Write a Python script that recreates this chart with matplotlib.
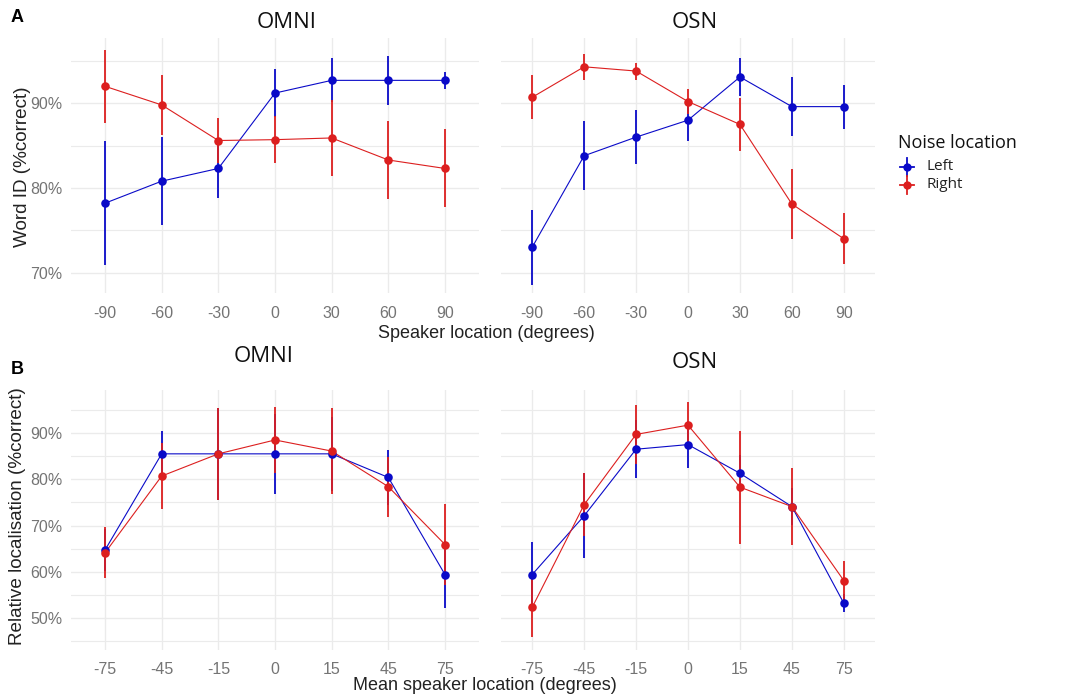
import matplotlib
matplotlib.use("Agg")
import matplotlib.pyplot as plt
from matplotlib.ticker import FixedLocator, FuncFormatter
from matplotlib.lines import Line2D

plt.rcParams["font.family"] = ["Liberation Sans", "DejaVu Sans"]

# ---- data -------------------------------------------------------------
speaker_loc = ["-90", "-60", "-30", "0", "30", "60", "90"]
mean_loc = ["-75", "-45", "-15", "0", "15", "45", "75"]

# Word identification (% correct), mean and half-width of error bar
wid_omni_left = [78.2, 80.8, 82.3, 91.2, 92.7, 92.7, 92.7]
wid_omni_left_err = [7.3, 5.2, 3.5, 2.8, 2.6, 2.9, 1.0]
wid_omni_right = [92.0, 89.8, 85.6, 85.7, 85.9, 83.3, 82.3]
wid_omni_right_err = [4.3, 3.5, 2.7, 2.8, 4.5, 4.6, 4.6]

wid_osn_left = [73.0, 83.8, 86.0, 88.0, 93.1, 89.6, 89.6]
wid_osn_left_err = [4.4, 4.1, 3.2, 2.4, 2.2, 3.5, 2.6]
wid_osn_right = [90.7, 94.3, 93.8, 90.2, 87.5, 78.1, 74.0]
wid_osn_right_err = [2.6, 1.5, 1.0, 1.5, 3.1, 4.1, 3.0]

# Relative localisation (% correct)
loc_omni_left = [64.7, 85.5, 85.5, 85.5, 85.5, 80.4, 59.4]
loc_omni_left_err = [4.5, 5.0, 10.0, 8.7, 8.0, 6.0, 7.2]
loc_omni_right = [64.1, 80.7, 85.5, 88.5, 86.1, 78.4, 65.9]
loc_omni_right_err = [5.5, 7.2, 10.0, 7.2, 9.3, 6.5, 8.7]

loc_osn_left = [59.4, 72.1, 86.5, 87.5, 81.3, 74.1, 53.2]
loc_osn_left_err = [7.0, 9.2, 6.3, 5.1, 4.0, 4.0, 1.9]
loc_osn_right = [52.3, 74.5, 89.7, 91.7, 78.3, 74.1, 58.1]
loc_osn_right_err = [6.4, 6.8, 6.3, 5.1, 12.2, 8.4, 4.3]

noise_labels = ["Left", "Right"]

# ---- style ------------------------------------------------------------
BLUE = "#0a0ac8"
RED = "#dc1f1f"
GRID = "#ebebeb"
TICK = "#747474"

W, H = 1070, 699
fig = plt.figure(figsize=(W / 100, H / 100), dpi=100)


def ax_at(x0, y0, x1, y1):
    return fig.add_axes([x0 / W, 1 - y1 / H, (x1 - x0) / W, (y1 - y0) / H])


def draw_panel(ax, cats, series, ylim, major, minor):
    pos = list(range(len(cats)))
    for vals, errs, col in series:
        ax.plot(pos, vals, color=col, lw=0.8, zorder=3)
        ax.vlines(pos, [v - e for v, e in zip(vals, errs)],
                  [v + e for v, e in zip(vals, errs)],
                  color=col, lw=1.3, zorder=3)
        ax.scatter(pos, vals, s=38, color=col, zorder=4, linewidths=0)
    ax.set_xlim(-0.6, len(cats) - 0.4)
    ax.set_ylim(*ylim)
    ax.set_xticks(pos)
    ax.set_xticklabels(cats)
    ax.yaxis.set_major_locator(FixedLocator(major))
    ax.yaxis.set_minor_locator(FixedLocator(minor))
    ax.yaxis.set_major_formatter(FuncFormatter(lambda v, p: f"{v:.0f}%"))
    ax.grid(True, which="major", color=GRID, lw=1.0, zorder=0)
    ax.grid(True, which="minor", axis="y", color=GRID, lw=0.8, zorder=0)
    for s in ax.spines.values():
        s.set_visible(False)
    ax.tick_params(which="both", length=0, colors=TICK, labelsize=11.5,
                   pad=6)
    ax.tick_params(axis="x", pad=9)
    ax.set_axisbelow(True)


# Panel A: word identification
a1 = ax_at(71, 38, 479, 293)
draw_panel(a1, speaker_loc,
           [(wid_omni_left, wid_omni_left_err, BLUE),
            (wid_omni_right, wid_omni_right_err, RED)],
           (67.6, 97.7), [70, 80, 90], [75, 85, 95])
a2 = ax_at(501, 38, 875, 293)
draw_panel(a2, speaker_loc,
           [(wid_osn_left, wid_osn_left_err, BLUE),
            (wid_osn_right, wid_osn_right_err, RED)],
           (67.6, 97.7), [70, 80, 90], [75, 85, 95])
a2.set_yticklabels([])

# Panel B: relative localisation
b1 = ax_at(71, 390, 479, 650)
draw_panel(b1, mean_loc,
           [(loc_omni_left, loc_omni_left_err, BLUE),
            (loc_omni_right, loc_omni_right_err, RED)],
           (43.1, 99.3), [50, 60, 70, 80, 90], [45, 55, 65, 75, 85, 95])
b2 = ax_at(501, 390, 875, 650)
draw_panel(b2, mean_loc,
           [(loc_osn_left, loc_osn_left_err, BLUE),
            (loc_osn_right, loc_osn_right_err, RED)],
           (43.1, 99.3), [50, 60, 70, 80, 90], [45, 55, 65, 75, 85, 95])
b2.set_yticklabels([])


def ftext(x, y, s, **kw):
    fig.text(x / W, 1 - y / H, s, **kw)


title_kw = dict(fontsize=16, family=["Open Sans", "DejaVu Sans"],
                ha="center", va="center", color="#111111")
ftext(287, 22, "OMNI", **title_kw)
ftext(695, 22, "OSN", **title_kw)
ftext(264, 356, "OMNI", **title_kw)
ftext(695, 363, "OSN", **title_kw)

ftext(17, 17, "A", fontsize=13, weight="bold", ha="center", va="center")
ftext(17, 369, "B", fontsize=13, weight="bold", ha="center", va="center")

lab_kw = dict(fontsize=13, color="#222222", ha="center", va="center")
ftext(486, 333, "Speaker location (degrees)", **lab_kw)
ftext(485, 685, "Mean speaker location (degrees)", **lab_kw)
ylab_kw = dict(lab_kw, fontsize=13.6)
ftext(23, 167, "Word ID (%correct)", rotation=90, **ylab_kw)
ftext(18, 516, "Relative localisation (%correct)", rotation=90, **ylab_kw)

# legend: Noise location keys drawn as point-ranges
ftext(898, 143, "Noise location", fontsize=13, color="#111111",
      ha="left", va="center", family=["Open Sans", "DejaVu Sans"])
for c, lab, y in zip((BLUE, RED), noise_labels, (167, 185)):
    xk, yk = 907 / W, 1 - y / H
    fig.add_artist(Line2D([xk, xk], [yk - 9 / H, yk + 9 / H], color=c,
                          lw=1.3, transform=fig.transFigure))
    fig.add_artist(Line2D([xk - 7 / W, xk + 7 / W], [yk, yk], color=c,
                          lw=1.3, transform=fig.transFigure))
    fig.add_artist(Line2D([xk], [yk], color=c, lw=0, marker="o",
                          markersize=6, markeredgewidth=0,
                          transform=fig.transFigure))
    ftext(926, y, lab, fontsize=11, color="#222222", ha="left",
          va="center", family=["Open Sans", "DejaVu Sans"])

fig.savefig("out.png", dpi=100, facecolor="white")
